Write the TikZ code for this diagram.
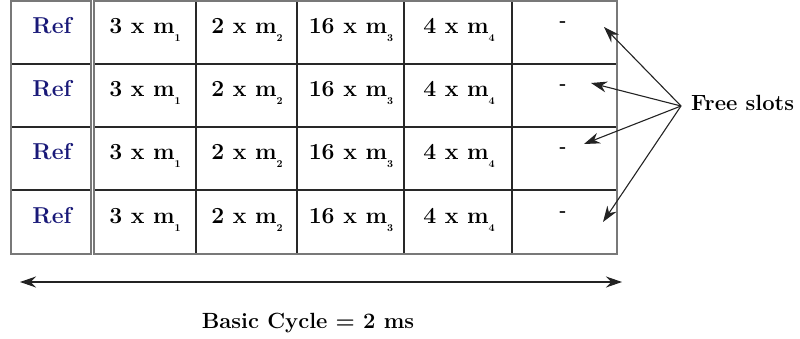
\documentclass[tikz,border=0pt]{standalone}
\usepackage{fontspec}
\usetikzlibrary{arrows.meta}
\definecolor{outerc}{RGB}{120,120,120}
\definecolor{innerc}{RGB}{40,40,40}
\definecolor{refc}{RGB}{25,25,120}
\definecolor{arrc}{RGB}{35,35,35}
\newcommand{\msub}[1]{\raisebox{-8pt}{\fontsize{10.5}{10.5}\selectfont\bfseries #1}}
\begin{document}
\begin{tikzpicture}[x=1pt,y=-1pt,
  cell/.style={anchor=base,inner sep=0pt,font=\fontsize{23}{27}\selectfont\bfseries,text=black},
  refcell/.style={cell,text=refc},
  outerline/.style={draw=outerc,line width=1.6pt},
  innerline/.style={draw=innerc,line width=1.6pt},
  ptr/.style={draw=arrc,line width=1.1pt,-{Stealth[length=16pt,width=11pt]}},
  lbl/.style={inner sep=0pt,font=\fontsize{22}{26}\selectfont\bfseries}]
\useasboundingbox (0,0) rectangle (800,339);
% inner lines
\foreach \yy in {64,127,190}{
  \draw[innerline] (11,\yy) -- (91,\yy);
  \draw[innerline] (94,\yy) -- (617,\yy);
}
\foreach \xx in {196,297,404,512}{
  \draw[innerline] (\xx,1) -- (\xx,254);
}
% outer frames
\draw[outerline] (11,1) rectangle (91,254);
\draw[outerline] (94,1) rectangle (617,254);
% cells
\foreach \r/\yy in {1/34,2/97,3/160,4/223}{
  \node[refcell] (ref\r) at (52,\yy) {Ref};
  \node[cell] (a\r) at (145,\yy) {3 x m\msub{1}};
  \node[cell] (b\r) at (247,\yy) {2 x m\msub{2}};
  \node[cell] (c\r) at (351,\yy) {16 x m\msub{3}};
  \node[cell] (d\r) at (459,\yy) {4 x m\msub{4}};
}
\node[cell,font=\fontsize{18}{20}\selectfont\bfseries] (f1) at (563,27) {-};
\node[cell,font=\fontsize{18}{20}\selectfont\bfseries] (f2) at (563,90) {-};
\node[cell,font=\fontsize{18}{20}\selectfont\bfseries] (f3) at (563,153) {-};
\node[cell,font=\fontsize{18}{20}\selectfont\bfseries] (f4) at (563,216) {-};
% free slots
\node[lbl,anchor=base west] (free) at (691,111) {Free slots};
\coordinate (src) at (681,106);
\coordinate (t1) at (604,27);
\coordinate (t2) at (591,83);
\coordinate (t3) at (584,144);
\coordinate (t4) at (603,222);
\foreach \t in {t1,t2,t3,t4}{
  \draw[ptr] (src) -- (\t);
}
% basic cycle
\coordinate (cl) at (20,282);
\coordinate (cr) at (622,282);
\draw[draw=arrc,line width=1.1pt,{Stealth[length=16pt,width=11pt]}-{Stealth[length=16pt,width=11pt]}] (cl) -- (cr);
\node[lbl,anchor=base] (cycle) at (308,328) {Basic Cycle = 2 ms};
\end{tikzpicture}
\end{document}
